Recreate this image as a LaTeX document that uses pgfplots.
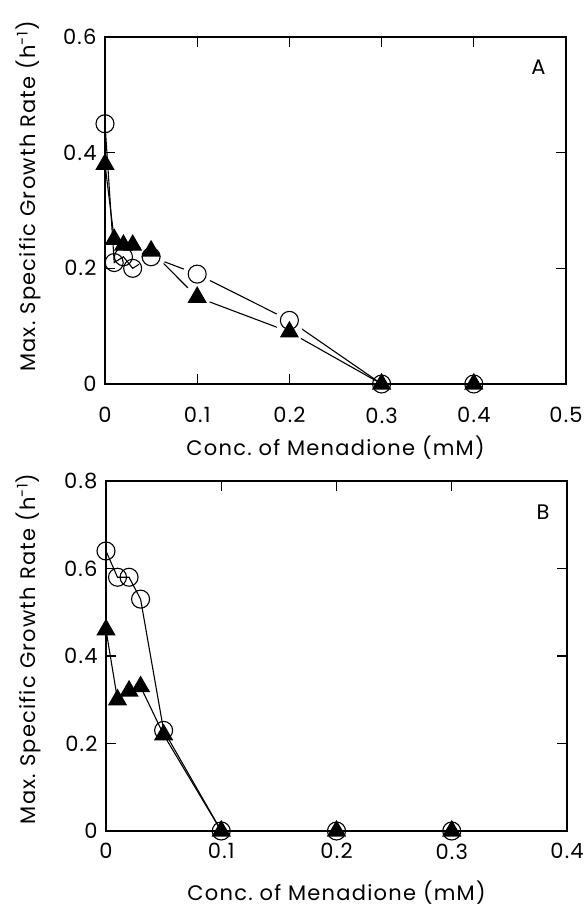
\documentclass[border=0pt]{standalone}
\usepackage{fontspec}
\setmainfont[LetterSpace=6]{Poppins}
\usepackage{pgfplots}
\pgfplotsset{compat=1.18}
\newcommand{\fsz}{\fontsize{21}{25}\selectfont}
\pgfplotsset{
  mystyle/.style={
    scale only axis, width=461pt,
    axis line style={line width=1.3pt},
    tick align=inside, major tick length=10pt,
    every tick/.style={line width=1.2pt, black},
    /pgf/number format/assume math mode=true,
    ticklabel style={font=\fsz},
    yticklabel style={xshift=-5pt},
    label style={font=\fsz},
    ylabel={Max.\ Specific Growth Rate (h\textsuperscript{-1})},
    xlabel={Conc.\ of Menadione (mM)},
    clip=false,
  },
  circ/.style={black, line width=1.1pt, mark=o, mark size=9pt, mark options={fill=white, line width=1.1pt}},
  tri/.style={black, line width=1.1pt, mark=triangle*, mark size=10pt, mark options={fill=black}},
}
\begin{document}
\begin{tikzpicture}[x=1pt,y=1pt]
\path[use as bounding box] (0,0) rectangle (584,908);
% Panel A
\begin{axis}[mystyle, at={(105pt,524pt)}, anchor=south west, height=347pt,
  xmin=0, xmax=0.5, ymin=0, ymax=0.6,
  xtick={0,0.1,0.2,0.3,0.4,0.5}, ytick={0,0.2,0.4,0.6},
  xticklabel style={yshift=-20pt},
  ylabel style={at={(axis description cs:-0.167,0.54)}, anchor=center},
  xlabel style={at={(axis description cs:0.5,-0.182)}, anchor=center},
]
\addplot[black, line width=1.1pt] coordinates {(0,0.45)(0.01,0.21)(0.02,0.22)(0.03,0.20)(0.05,0.22)(0.1,0.19)(0.2,0.11)(0.3,0)(0.4,0)};
\addplot[black, line width=1.1pt] coordinates {(0,0.38)(0.01,0.25)(0.02,0.24)(0.03,0.24)(0.05,0.23)(0.1,0.15)(0.2,0.09)(0.3,0)(0.4,0)};
\addplot[only marks, mark=*, mark size=14pt, white] coordinates {(0.05,0.22)(0.1,0.19)(0.2,0.11)};
\addplot[only marks, mark=*, mark size=13pt, white] coordinates {(0.1,0.15)(0.2,0.09)};
\addplot[circ, only marks] coordinates {(0,0.45)(0.01,0.21)(0.02,0.22)(0.03,0.20)(0.05,0.22)(0.1,0.19)(0.2,0.11)(0.3,0)(0.4,0)};
\addplot[tri, only marks] coordinates {(0,0.38)(0.01,0.25)(0.02,0.24)(0.03,0.24)(0.05,0.23)(0.1,0.15)(0.2,0.09)(0.3,0)(0.4,0)};
\node[font=\fsz] at (rel axis cs:0.94,0.913) {A};
\end{axis}
% Panel B
\begin{axis}[mystyle, at={(106pt,77pt)}, anchor=south west, height=350pt,
  xmin=0, xmax=0.4, ymin=0, ymax=0.8,
  xtick={0,0.1,0.2,0.3,0.4}, ytick={0,0.2,0.4,0.6,0.8},
  xticklabel style={yshift=-9pt},
  ylabel style={at={(axis description cs:-0.169,0.52)}, anchor=center},
  xlabel style={at={(axis description cs:0.5,-0.177)}, anchor=center},
]
\addplot[black, line width=1.1pt] coordinates {(0,0.64)(0.01,0.58)(0.02,0.58)(0.03,0.53)(0.05,0.23)(0.1,0)(0.2,0)(0.3,0)};
\addplot[black, line width=1.1pt] coordinates {(0,0.46)(0.01,0.30)(0.02,0.32)(0.03,0.33)(0.05,0.22)(0.1,0)(0.2,0)(0.3,0)};
\addplot[circ, only marks] coordinates {(0,0.64)(0.01,0.58)(0.02,0.58)(0.03,0.53)(0.05,0.23)(0.1,0)(0.2,0)(0.3,0)};
\addplot[tri, only marks] coordinates {(0,0.46)(0.01,0.30)(0.02,0.32)(0.03,0.33)(0.05,0.22)(0.1,0)(0.2,0)(0.3,0)};
\node[font=\fsz] at (rel axis cs:0.948,0.911) {B};
\end{axis}
\end{tikzpicture}
\end{document}
